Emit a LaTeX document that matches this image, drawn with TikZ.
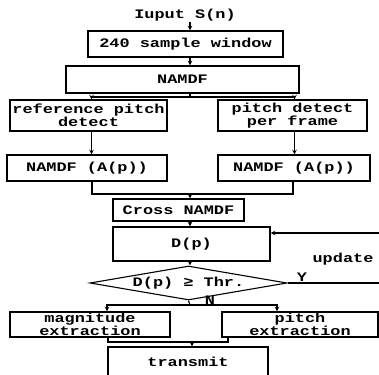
\documentclass[tikz,border=0pt]{standalone}
\usepackage{fontspec}
\newfontfamily\flowfont[FakeStretch=1.3]{Liberation Mono}
\usetikzlibrary{shapes.geometric}

\tikzset{
  txt/.style={font=\flowfont\bfseries\fontsize{13}{13}\selectfont,inner sep=0pt,align=center},
  blk/.style={txt,draw,line width=1.1pt,fill=white},
  dec/.style={txt,draw,line width=1.1pt,diamond,shape aspect=5.8,minimum width=197pt,minimum height=34pt}
}

\begin{document}
\begin{tikzpicture}[>=stealth,x=1pt,y=-1pt,line width=1.1pt]
      \useasboundingbox (0,0) rectangle (379,374);
      % top chain
      \node[txt] (in) at (185,15) {Iuput S(n)};
      \node[blk,minimum width=195pt,minimum height=26pt] (win) at (185.5,44) {240 sample window};
      \node[blk,minimum width=233pt,minimum height=27pt] (namdf) at (182.5,79.5) {NAMDF};
      % two branches
      \node[blk,minimum width=157pt,minimum height=31pt] (ref) at (88.5,115.5) {reference pitch\\detect};
      \node[blk,minimum width=149pt,minimum height=31pt] (ppf) at (292.5,115.5) {pitch detect\\per frame};
      \node[blk,minimum width=160pt,minimum height=26pt] (nl) at (87,168) {NAMDF (A(p))};
      \node[blk,minimum width=152pt,minimum height=26pt] (nr) at (294,168) {NAMDF (A(p))};
      \node[blk,minimum width=131pt,minimum height=22pt] (cross) at (178.5,210) {Cross NAMDF};
      \node[blk,minimum width=157pt,minimum height=34pt] (dp) at (191.5,244) {D(p)};
      \node[dec] (thr) at (188.5,283) {D(p) ≥ Thr.};
      \node[blk,minimum width=160pt,minimum height=25pt] (mag) at (90,324.5) {magnitude\\extraction};
      \node[blk,minimum width=156pt,minimum height=25pt] (pex) at (300,324.5) {pitch\\extraction};
      \node[blk,minimum width=160pt,minimum height=30pt] (tx) at (188,362) {transmit};
      % labels
      \node[txt] (upd) at (343,259) {update};
      \node[txt] (yes) at (302,277) {Y};
      \node[txt] (no) at (210,300) {N};
      \coordinate (s1) at (190,97);
      \coordinate (m1) at (190,194);
      \coordinate (s2) at (190,305);
      \coordinate (m2) at (192,342);
      \coordinate (fb) at (383,283);
      \coordinate (fbtop) at (383,233);
      % connectors
      \draw[->] (in.south -| s1) -- (win.north -| s1);
      \draw[->] (win.south -| s1) -- (namdf.north -| s1);
      \draw (namdf.south -| s1) -- (s1);
      \draw[->] (s1) -| ([xshift=3pt]ref.north);
      \draw[->] (s1) -| ([xshift=2pt]ppf.north);
      \draw[->] ([xshift=3pt]ref.south) -- ([xshift=3pt]ref.south |- nl.north);
      \draw[->] ([xshift=2pt]ppf.south) -- ([xshift=2pt]ppf.south |- nr.north);
      \draw ([xshift=5pt]nl.south) |- (m1) -| ([xshift=-1pt]nr.south);
      \draw[->] (m1) -- (m1 |- cross.north);
      \draw[->] (cross.south -| s1) -- (dp.north -| s1);
      \draw[->] (dp.south -| s1) -- (thr.north -| s1);
      \draw[->] (thr.east) -- (fb) -- (fbtop) -- (fbtop -| dp.east);
      \draw (thr.south) -- (s2);
      \draw[->] (s2) -| ([xshift=17pt]mag.north);
      \draw[->] (s2) -| ([xshift=-23pt]pex.north);
      \draw ([xshift=18pt]mag.south) |- (m2) -| ([xshift=-72pt]pex.south);
      \draw[->] (m2) -- (m2 |- tx.north);
\end{tikzpicture}
\end{document}
